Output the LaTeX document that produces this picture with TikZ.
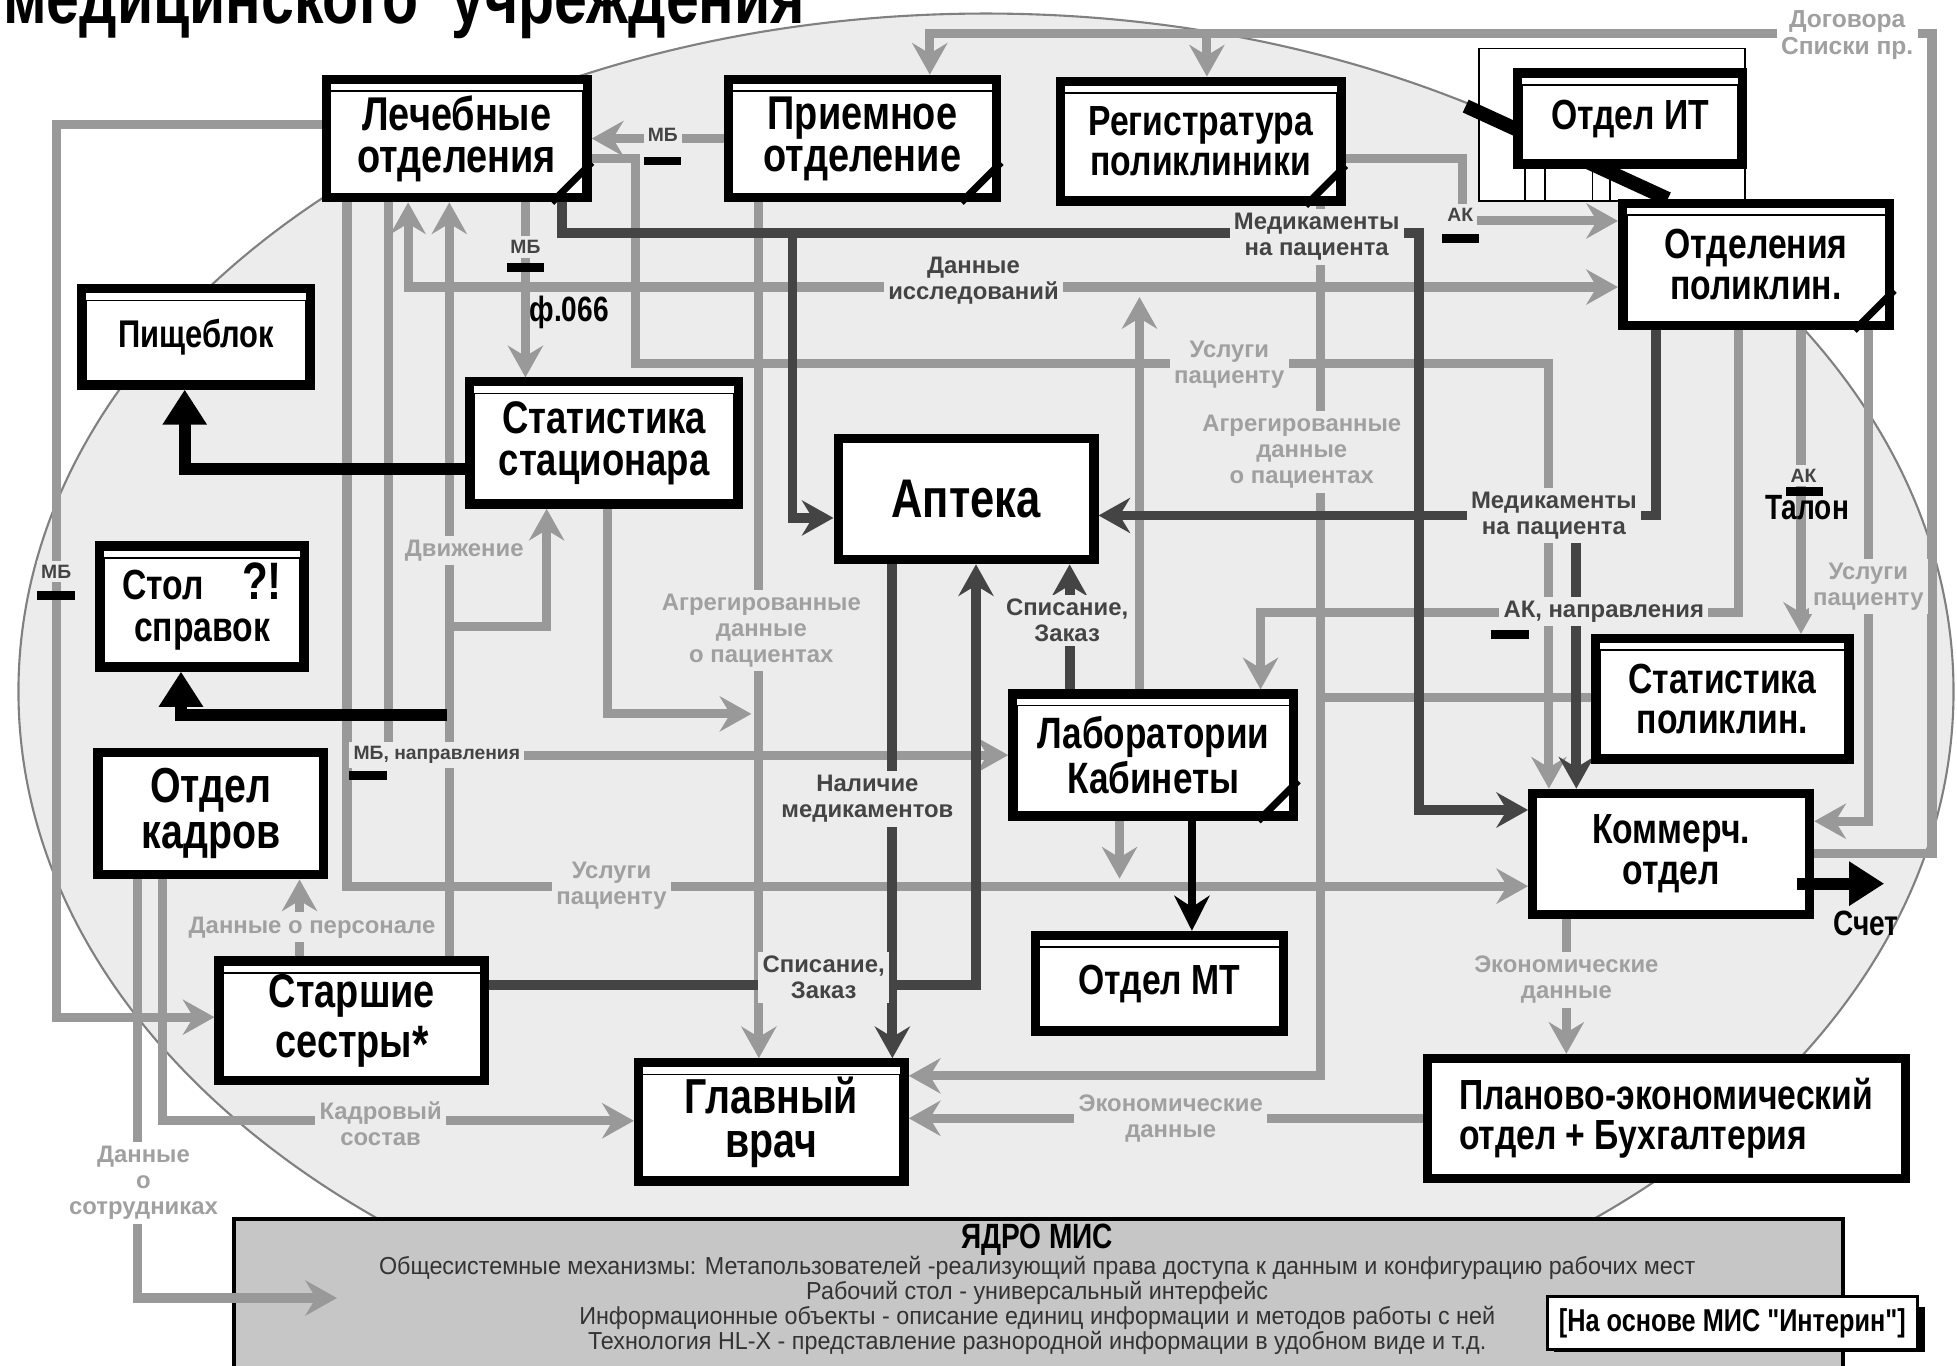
\documentclass[tikz,border=0pt]{standalone}
\usepackage{fontspec}
\setmainfont{Liberation Sans}
\newfontfamily\nrw[FakeStretch=0.8]{Liberation Sans}
\newfontfamily\crf[FakeStretch=0.95]{Liberation Sans}
\usetikzlibrary{arrows.meta,calc,backgrounds}

\definecolor{wiregray}{HTML}{999999}
\definecolor{wiredark}{HTML}{444444}
\definecolor{ovalgray}{HTML}{ECECEC}
\definecolor{lblgray}{HTML}{A0A0A0}
\definecolor{coregray}{HTML}{C6C6C6}

\pgfdeclarelayer{back}
\pgfdeclarelayer{wires}
\pgfsetlayers{back,wires,main}

\newcommand\tightlines{\lineskiplimit=-20pt\relax}

\tikzset{
  box/.style={draw, fill=white, line width=2.6pt, align=center, inner sep=2pt},
  sz/.style 2 args={minimum width=#1*0.0125cm, minimum height=#2*0.0125cm},
  fsz/.style 2 args={font=\nrw\bfseries\fontsize{#1}{#2}\selectfont},
  gw/.style={draw=wiregray, line width=2.6pt},
  dw/.style={draw=wiredark, line width=2.8pt},
  kw/.style={draw=black, line width=3.4pt, -{Triangle[length=10pt,width=12pt]}},
  lbl/.style={fill=ovalgray, inner sep=1.2pt, align=center, text=wiredark,
    font=\bfseries\fontsize{6.8}{7.4}\selectfont},
  glb/.style={lbl, text=lblgray},
  smlbl/.style={lbl, font=\bfseries\fontsize{5.5}{6}\selectfont},
  mbar/.style={fill=black, minimum width=0.375cm, minimum height=0.09cm, inner sep=0pt},
}

% thin frame inside a box, folded corner
\newcommand\inbox[1]{\draw[line width=0.5pt] ($(#1.north west)+(7,13)$) rectangle ($(#1.south east)+(-7,-7)$);}
\newcommand\dogear[1]{\draw[line width=2pt] ($(#1.south east)+(-32,0)$) -- ($(#1.south east)+(0,-32)$);}

\begin{document}
\begin{tikzpicture}[x=0.0125cm, y=-0.0125cm, >={Stealth[length=9pt,width=10pt,inset=3pt]}]
\useasboundingbox (0,0) rectangle (1568,1094);

\begin{pgfonlayer}{back}
  \fill[white] (0,0) rectangle (1568,1094);
  \fill[ovalgray] (790,554) ellipse [x radius=9.6875cm, y radius=6.7875cm];
  \draw[black!50, line width=0.6pt] (790,554) ellipse [x radius=9.6875cm, y radius=6.7875cm];
\end{pgfonlayer}

\node[anchor=base west, inner sep=0, fsz={21}{21}] (title) at (2,19) {медицинского\ \ учреждения};

% boxes
\node[box, sz={209}{95}, fsz={13.5}{12}] (lech) at (366,111) {Лечебные\\отделения};
\node[box, sz={215}{95}, fsz={13.5}{12}] (priem) at (691,111) {Приемное\\отделение};
\node[box, sz={225}{96}, fsz={12}{11.5}] (reg) at (962,113) {Регистратура\\поликлиники};
\node[box, sz={180}{73}, fsz={12}{12}] (it) at (1306,95) {Отдел ИТ};
\node[box, sz={214}{98}, fsz={12}{11.5}] (otdpol) at (1407,212) {Отделения\\поликлин.};
\node[box, sz={183}{77}, fsz={11}{11}] (pishch) at (157,270) {Пищеблок};
\node[box, sz={215}{98}, fsz={13}{12}] (statst) at (484,355) {Статистика\\стационара};
\node[box, sz={205}{97}, fsz={15.5}{15}] (apt) at (774,400) {Аптека};
\node[box, sz={164}{97}, fsz={12}{12}] (stol) at (162,486) {Стол\hspace{0.9em}{\fontsize{15}{12}\selectfont ?!}\\справок};
\node[box, sz={181}{98}, fsz={14}{13}] (kadr) at (169,652) {Отдел\\кадров};
\node[box, sz={225}{98}, fsz={12.5}{11.5}] (lab) at (924,605) {Лаборатории\\Кабинеты};
\node[box, sz={203}{97}, fsz={12}{11.5}] (statpol) at (1380,560) {Статистика\\поликлин.};
\node[box, sz={222}{97}, fsz={12}{11.5}] (komm) at (1339,684) {Коммерч.\\отдел};
\node[box, sz={213}{96}, fsz={13.5}{14}] (sestr) at (282,818) {Старшие\\сестры\raisebox{-1.5pt}[0pt][0pt]{\fontsize{15}{12}\selectfont *}};
\node[box, sz={199}{77}, fsz={12}{12}] (mt) at (929,788) {Отдел МТ};
\node[box, sz={213}{95}, fsz={14}{12.5}] (glav) at (618,899) {Главный\\врач};
\node[box, sz={383}{96}, fsz={12}{11.5}, align=left] (plan) at (1335,896) {Планово-экономический\\отдел + Бухгалтерия};

\foreach \n in {lech,priem,reg,it,otdpol,pishch,statst,stol,lab,statpol,sestr,mt,glav} {\inbox{\n}}
\foreach \n in {lech,priem,reg,otdpol,lab} {\dogear{\n}}

% core
\node[draw, fill=coregray, line width=1.2pt, sz={1289}{140}, anchor=north west] (core) at (186,975) {};
\node[fsz={10}{10}] (coretitle) at (831,993) {ЯДРО МИС};
\node[align=center, text=black!80, font={\crf\fontsize{7}{7.1}\selectfont\tightlines}] (coretext) at (831,1046)
  {Общесистемные механизмы: Метапользователей -реализующий права доступа к данным и конфигурацию рабочих мест\\
   Рабочий стол - универсальный интерфейс\\
   Информационные объекты - описание единиц информации и методов работы с ней\\
   Технология HL-X - представление разнородной информации в удобном виде и т.д.};
\fill[black] (1245,1047) rectangle (1542,1083);
\node[draw, fill=white, line width=0.8pt, sz={296}{35}, fsz={9}{9}] (interin) at (1388,1060) {[На основе МИС "Интерин"]};

\coordinate (jdv) at (360,502);
\coordinate (jmed) at (635,187);
\coordinate (jmedb) at (1263,413);
\coordinate (jstol) at (358,573);
\coordinate (jcore) at (270,1040);
\coordinate (jusl) at (897,704);
\coordinate (jissl) at (913,238);

\begin{pgfonlayer}{wires}
  % frames behind IT
  \fill[white] (1185,39) rectangle (1398,161);
  \draw[line width=0.4pt] (1185,39) rectangle (1398,161);
  \foreach \x in {1222,1238,1276,1290} {\draw[line width=0.4pt] (\x,135) -- (\x,161);}
  \draw[line width=4pt] ($(it.west)+(-38,-10)$) -- ($(otdpol.north west)+(40,0)$);
  % gray flows
  \draw[gw, ->] (komm.east) -- (1548,684) -- (1548,27) -- (745,27) -- (745,0 |- priem.north);
  \draw[gw, ->] (967,27) -- (967,0 |- reg.north);
  \draw[gw, ->] (priem.west) -- (lech.east);
  \draw[gw, ->] ($(lech.east)+(0,16)$) -- (509,127) -- (509,291) -- (1241,291) -- (1241,0 |- komm.north);
  \draw[gw, ->] ($(reg.east)+(0,14)$) -- (1172,127) -- (1172,177) -- (otdpol.west |- 0,177);
  \draw[gw, ->] (913,0 |- lab.north) -- (jissl);
  \draw[gw, <->] (327,0 |- lech.south) -- (327,230) -- (otdpol.west |- 0,230);
  \draw[gw, ->] (421,0 |- lech.south) -- (421,0 |- statst.north);
  \draw[gw, ->] (360,0 |- sestr.north) -- (360,0 |- lech.south);
  \draw[gw, ->] (jdv) -- (438,502) -- (438,0 |- statst.south);
  \draw[gw, ->] (311,0 |- lech.south) -- (311,605) -- (lab.west |- 0,605);
  \draw[gw, ->] (278,0 |- lech.south) -- (278,710) -- (komm.west |- 0,710);
  \draw[gw, ->] (897,0 |- lab.south) -- (jusl);
  \draw[gw, ->] (lech.west |- 0,100) -- (45,100) -- (45,815) -- (sestr.west |- 0,815);
  \draw[gw, ->] (130,0 |- kadr.south) -- (130,898) -- (glav.west |- 0,898);
  \draw[gw, ->] (240,0 |- sestr.north) -- (240,0 |- kadr.south);
  \draw[gw, ->] (487,0 |- statst.south) -- (487,572) -- (602,572);
  \draw[gw, ->] (608,0 |- priem.south) -- (608,0 |- glav.north);
  \draw[gw, ->] (1058,0 |- reg.south) -- (1058,862) -- (glav.east |- 0,862);
  \draw[gw] (statpol.west |- 0,559) -- (1058,559);
  \draw[gw, ->] (plan.west) -- (glav.east |- plan.west);
  \draw[gw, ->] (1255,0 |- komm.south) -- (1255,0 |- plan.north);
  \draw[gw, ->] (1497,0 |- otdpol.south) -- (1497,658) -- (komm.east |- 0,658);
  \draw[gw, ->] (1443,0 |- otdpol.south) -- (1443,0 |- statpol.north);
  \draw[gw, ->] (1393,0 |- otdpol.south) -- (1393,491) -- (1010,491) -- (1010,0 |- lab.north);
  % medication flows
  \draw[dw, ->] (450,0 |- lech.south) -- (450,187) -- (1137,187) -- (1137,649) -- (komm.west |- 0,649);
  \draw[dw, ->] (jmed) -- (635,415) -- (apt.west |- 0,415);
  \draw[dw, ->] (1327,0 |- otdpol.south) -- (1327,413) -- (apt.east |- 0,413);
  \draw[dw, ->] (jmedb) -- (1263,0 |- komm.north);
  \draw[dw, ->] (715,0 |- apt.south) -- (715,0 |- glav.north);
  \draw[dw, ->] (sestr.east |- 0,789) -- (782,789) -- (782,0 |- apt.south);
  \draw[dw, ->] (857,0 |- lab.north) -- (857,0 |- apt.south);
  % black arrows
  \draw[kw] (statst.west |- 0,376) -- (148,376) -- (148,0 |- pishch.south);
  \draw[kw] (jstol) -- (145,573) -- (145,0 |- stol.south);
  \draw[line width=2.2pt, -{Stealth[length=10pt,width=10pt]}] (955,0 |- lab.south) -- (955,0 |- mt.north);
\end{pgfonlayer}

\draw[gw, ->] (110,0 |- kadr.south) -- (110,1040) -- (jcore);
\draw[kw] ($(komm.east)+(-14,24)$) -- ++(70,0) coordinate (schet);

% labels
\node[glb, fill=white, font=\bfseries\fontsize{7}{7.6}\selectfont] (ldog) at (1480,28) {Договора\\Списки пр.};
\node[smlbl] (lmb1) at (531,108) {МБ};
\node[mbar] (bmb1) at (531,129) {};
\node[smlbl] (lmb2) at (421,198) {МБ};
\node[mbar] (bmb2) at (421,214) {};
\node[font=\nrw\bfseries\fontsize{10}{10}\selectfont] (lf066) at (456,250) {ф.066};
\node[smlbl] (lmb3) at (45,458) {МБ};
\node[mbar] (bmb3) at (45,477) {};
\node[smlbl] (lak1) at (1170,172) {АК};
\node[mbar] (bak1) at (1170,191) {};
\node[lbl] (lmed1) at (1055,190) {Медикаменты\\на пациента};
\node[lbl] (lissl) at (780,225) {Данные\\исследований};
\node[glb] (lusl1) at (985,292) {Услуги\\пациенту};
\node[glb] (lagr1) at (1043,362) {Агрегированные\\данные\\о пациентах};
\node[lbl] (lmed2) at (1245,413) {Медикаменты\\на пациента};
\node[smlbl] (lak2) at (1445,381) {АК};
\node[mbar] (bak2) at (1446,394) {};
\node[font=\nrw\bfseries\fontsize{10}{10}\selectfont] (ltalon) at (1448,407) {Талон};
\node[glb] (lusl2) at (1497,470) {Услуги\\пациенту};
\node[lbl] (lakn) at (1285,490) {АК, направления};
\node[mbar] (bakn) at (1210,508) {};
\node[lbl] (lsp1) at (855,497) {Списание,\\Заказ};
\node[glb] (lagr2) at (610,505) {Агрегированные\\данные\\о пациентах};
\node[glb] (ldv) at (372,441) {Движение};
\node[smlbl] (lmbn) at (350,605) {МБ, направления};
\node[mbar] (bmbn) at (295,621) {};
\node[lbl] (lnal) at (695,640) {Наличие\\медикаментов};
\node[glb] (lusl3) at (490,710) {Услуги\\пациенту};
\node[glb] (lpers) at (250,743) {Данные о персонале};
\node[lbl] (lsp2) at (660,783) {Списание,\\Заказ};
\node[glb] (lek1) at (1255,785) {Экономические\\данные};
\node[glb] (lkadr) at (305,900) {Кадровый\\состав};
\node[glb] (lek2) at (938,896) {Экономические\\данные};
\node[glb, fill=white] (lsotr) at (115,948) {Данные\\о\\сотрудниках};
\node[font=\nrw\bfseries\fontsize{10}{10}\selectfont] (lschet) at (1495,740) {Счет};
\end{tikzpicture}
\end{document}
